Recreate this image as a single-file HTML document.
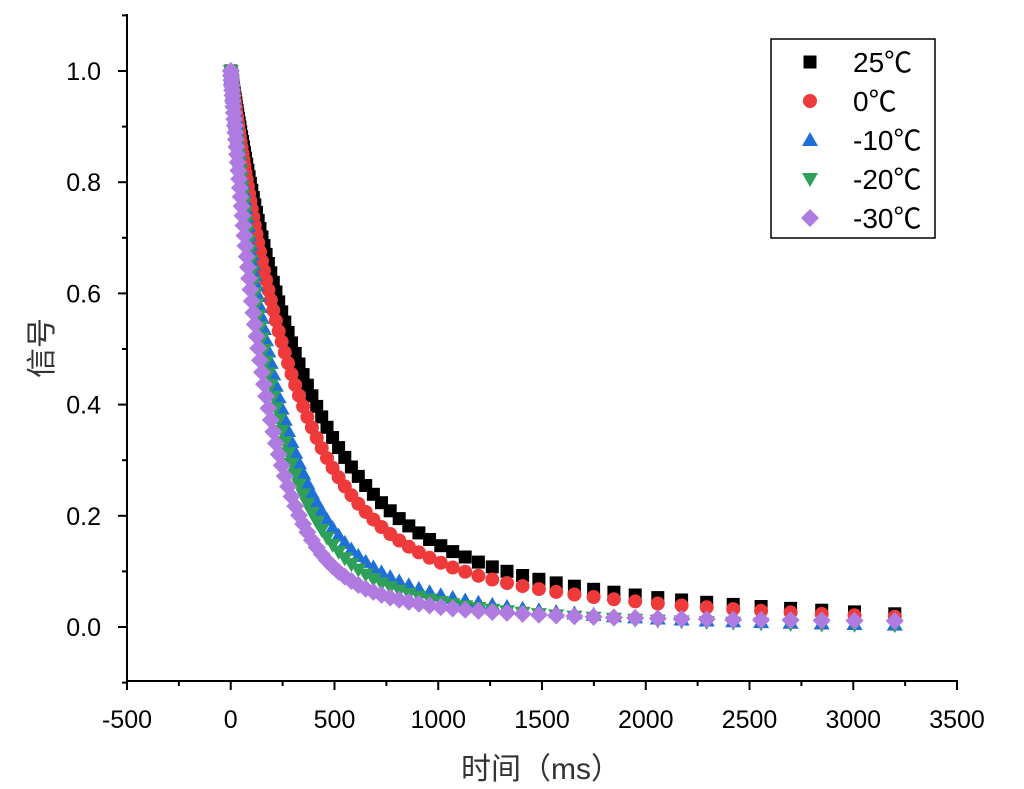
<!DOCTYPE html>
<html><head><meta charset="utf-8"><style>body{margin:0;background:#fff}svg{display:block}</style></head>
<body>
<svg id="s" width="1024" height="789" xmlns="http://www.w3.org/2000/svg" font-family="Liberation Sans, Arial, sans-serif">
</svg>
<script>
const s=document.getElementById('s');let h='';
const X=t=>230.75+t*0.2075, Y=v=>627-v*556;
const series=[
 ['#000','sq',t=>0.8*Math.exp(-t/350)+0.2*Math.exp(-t/1500)],
 ['#ee3a3a','ci',t=>0.82*Math.exp(-t/300)+0.18*Math.exp(-t/1400)],
 ['#1f6fd8','up',t=>0.85*Math.exp(-t/220)+0.15*Math.exp(-t/900)],
 ['#2ea05a','dn',t=>0.87*Math.exp(-t/200)+0.13*Math.exp(-t/850)],
 ['#b07be0','di',t=>0.89*Math.exp(-t/170)+0.1*Math.exp(-t/700)+0.01]];
const r=v=>Math.round(v*10)/10;
function mk(c,k,x,y){
 if(k=='sq')return `<rect x="${r(x-6.5)}" y="${r(y-6.5)}" width="13" height="13" fill="${c}"/>`;
 if(k=='ci')return `<circle cx="${r(x)}" cy="${r(y)}" r="7" fill="${c}"/>`;
 if(k=='up')return `<polygon points="${r(x)},${r(y-8)} ${r(x+8)},${r(y+6)} ${r(x-8)},${r(y+6)}" fill="${c}"/>`;
 if(k=='dn')return `<polygon points="${r(x)},${r(y+8)} ${r(x+8)},${r(y-6)} ${r(x-8)},${r(y-6)}" fill="${c}"/>`;
 return `<polygon points="${r(x)},${r(y-9)} ${r(x+9)},${r(y)} ${r(x)},${r(y+9)} ${r(x-9)},${r(y)}" fill="${c}"/>`;}
const ts=[];{let t=0;while(t<3100){ts.push(t);t+=1.5+0.055*t;}ts.push(3200);}
for(const [c,k,f] of series){for(const t of ts)h+=mk(c,k,X(t),Y(f(t)));}
// axes
h+='<line x1="127" y1="14" x2="127" y2="682" stroke="#000" stroke-width="2"/>';
h+='<line x1="126" y1="681" x2="958" y2="681" stroke="#000" stroke-width="2"/>';
for(let t=-500;t<=3500;t+=250){const x=X(t),maj=t%500==0;h+=`<line x1="${x}" y1="681" x2="${x}" y2="${681+(maj?9:5)}" stroke="#000" stroke-width="2"/>`;
 if(maj)h+=`<text x="${x}" y="728" font-size="25" text-anchor="middle">${t}</text>`;}
for(let i=-1;i<=11;i++){const v=i/10,y=Y(v),maj=i>=0&&i%2==0;h+=`<line x1="127" y1="${y}" x2="${127-(maj?9:5)}" y2="${y}" stroke="#000" stroke-width="2"/>`;
 if(maj)h+=`<text x="101" y="${y+9}" font-size="25" text-anchor="end">${v.toFixed(1)}</text>`;}
h+='<text x="541" y="779" font-size="30" text-anchor="middle" fill="#333" font-family="Liberation Sans, Noto Sans CJK SC, sans-serif">时间（ms）</text>';
h+='<text transform="translate(52,348) rotate(-90)" font-size="30" text-anchor="middle" fill="#333" font-family="Noto Sans CJK SC, sans-serif">信号</text>';
// legend
h+='<rect x="771" y="39" width="164" height="199" fill="#fff" stroke="#000" stroke-width="1.5"/>';
const lab=['25℃','0℃','-10℃','-20℃','-30℃'];
series.forEach((sr,i)=>{const y=62+i*39;h+=mk(sr[0],sr[1],810,y);h+=`<text x="853" y="${y+10}" font-size="28" font-family="Liberation Sans, Noto Sans CJK SC, sans-serif">${lab[i]}</text>`;});
s.innerHTML=h;
</script>
</body></html>
